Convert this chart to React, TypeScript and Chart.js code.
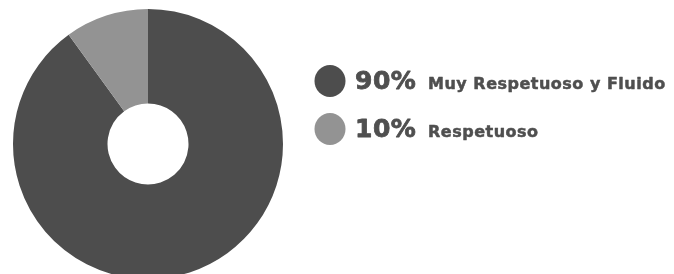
import React, { useEffect, useRef } from "react";
import { Chart, registerables } from "chart.js";

Chart.register(...registerables);

const labels = ["Muy Respetuoso y Fluido", "Respetuoso"];
const values = [90, 10];
const colors = ["#4d4d4d", "#939393"];

const legendPlugin = {
  id: "customLegend",
  afterDraw(chart: any) {
    const ctx = chart.ctx;
    const data = chart.data.datasets[0].data as number[];
    const bg = chart.data.datasets[0].backgroundColor as string[];
    const total = data.reduce((a, b) => a + b, 0);
    const rows = [89, 137];
    ctx.save();
    chart.data.labels.forEach((lab: string, i: number) => {
      const base = rows[i];
      ctx.fillStyle = bg[i];
      ctx.beginPath();
      ctx.ellipse(330, base - 8, 15.5, 16, 0, 0, Math.PI * 2);
      ctx.fill();
      ctx.fillStyle = "#4f4f4f";
      ctx.strokeStyle = "#4f4f4f";
      ctx.lineJoin = "round";
      ctx.textBaseline = "alphabetic";
      ctx.textAlign = "left";
      (ctx as any).letterSpacing = "0.5px";
      ctx.font = "bold 25px 'DejaVu Sans'";
      const pct = Math.round((data[i] / total) * 100) + "%";
      ctx.lineWidth = 0.8;
      ctx.fillText(pct, 355, base);
      ctx.strokeText(pct, 355, base);
      (ctx as any).letterSpacing = "0.5px";
      ctx.font = "bold 16px 'DejaVu Sans'";
      ctx.lineWidth = 0.5;
      ctx.fillText(lab, 428, base);
      ctx.strokeText(lab, 428, base);
    });
    ctx.restore();
  },
};

export default function App() {
  const ref = useRef<HTMLCanvasElement>(null);
  useEffect(() => {
    if (!ref.current) return;
    const chart = new Chart(ref.current, {
      type: "doughnut",
      data: {
        labels,
        datasets: [
          {
            data: values,
            backgroundColor: colors,
            borderWidth: 0,
          },
        ],
      },
      options: {
        responsive: false,
        animation: false,
        cutout: "30%",
        layout: { padding: { left: 13, right: 391, top: 9, bottom: 1 } },
        plugins: {
          legend: { display: false },
          tooltip: { enabled: false },
        },
      },
      plugins: [legendPlugin],
    });
    return () => chart.destroy();
  }, []);
  return (
    <div
      style={{
        position: "fixed",
        left: 0,
        top: 0,
        width: 674,
        height: 274,
        overflow: "hidden",
        background: "#fff",
      }}
    >
      <canvas ref={ref} width={674} height={280} style={{ display: "block" }} />
    </div>
  );
}
